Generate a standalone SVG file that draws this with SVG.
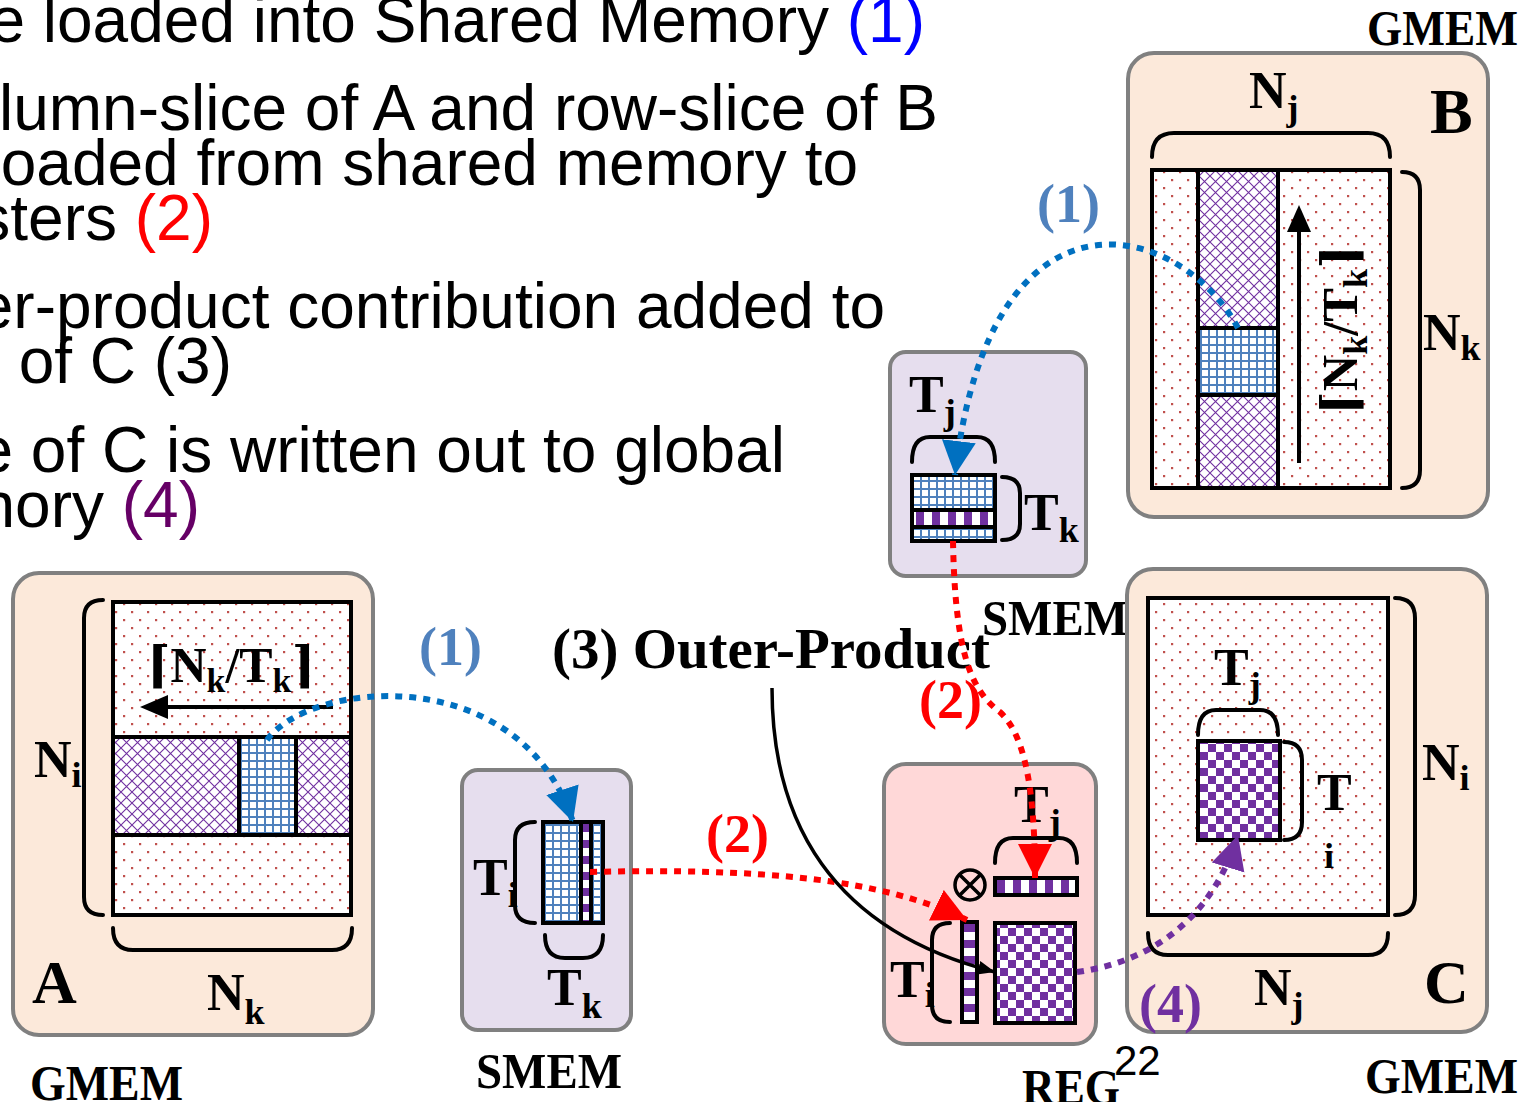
<svg xmlns="http://www.w3.org/2000/svg" width="1537" height="1102" viewBox="0 0 1537 1102">
<style>
.body{font-family:"Liberation Sans",Arial,sans-serif;font-size:64px;fill:#000}
.lbl{font-family:"Liberation Serif","DejaVu Serif",serif;font-weight:bold;fill:#000}
.big{font-size:52px}
.sub{font-size:36px}
.mem{font-size:50px}
.c1{fill:#4F81BD}
.c2{fill:#FF0000}
.c4{fill:#7030A0}
.box{stroke:#808080;stroke-width:4}
.gm{fill:#FCE9DA}
.sm{fill:#E6DEEE}
.rg{fill:#FFD8D8}
.ol{fill:none;stroke:#000;stroke-width:4}
.br{fill:none;stroke:#000;stroke-width:4;stroke-linecap:round}
.dash{fill:none;stroke-width:6;stroke-dasharray:7 7}
</style>
<defs>
<pattern id="dots" width="16" height="16" patternUnits="userSpaceOnUse"><rect width="16" height="16" fill="#fff"/><rect x="3" y="3" width="2.2" height="2.2" fill="#C0504D"/><rect x="11" y="11" width="2.2" height="2.2" fill="#C0504D"/></pattern>
<pattern id="hatch" width="11" height="11" patternUnits="userSpaceOnUse"><rect width="11" height="11" fill="#fff"/><path d="M0,0 L11,11 M11,0 L0,11" stroke="#7030A0" stroke-width="1.1"/></pattern>
<pattern id="grid" width="8" height="8" patternUnits="userSpaceOnUse"><rect width="8" height="8" fill="#fff"/><rect width="8" height="2" fill="#4F81BD"/><rect width="2" height="8" fill="#4F81BD"/></pattern>
<pattern id="check" width="16" height="16" patternUnits="userSpaceOnUse"><rect width="16" height="16" fill="#fff"/><rect width="8" height="8" fill="#7030A0"/><rect x="8" y="8" width="8" height="8" fill="#7030A0"/></pattern>
<pattern id="chkH1" x="997" y="880" width="16" height="20" patternUnits="userSpaceOnUse"><rect width="16" height="20" fill="#fff"/><rect width="8" height="20" fill="#7030A0"/></pattern>
<pattern id="chkH2" x="914" y="512" width="16" height="20" patternUnits="userSpaceOnUse"><rect width="16" height="20" fill="#fff"/><rect x="2" width="8" height="20" fill="#7030A0"/></pattern>
<pattern id="chkV1" x="962" y="924" width="20" height="16" patternUnits="userSpaceOnUse"><rect width="20" height="16" fill="#fff"/><rect width="20" height="8" fill="#7030A0"/></pattern>
<pattern id="chkV2" x="580" y="824" width="20" height="16" patternUnits="userSpaceOnUse"><rect width="20" height="16" fill="#fff"/><rect width="20" height="8" fill="#7030A0"/></pattern>
<marker id="mBlue" markerUnits="userSpaceOnUse" viewBox="0 0 36 36" markerWidth="36" markerHeight="36" refX="34" refY="17" orient="auto"><path d="M0,0 L34,17 L0,34 z" fill="#0070C0"/></marker>
<marker id="mRed" markerUnits="userSpaceOnUse" viewBox="0 0 36 36" markerWidth="36" markerHeight="36" refX="34" refY="17" orient="auto"><path d="M0,0 L34,17 L0,34 z" fill="#FF0000"/></marker>
<marker id="mPur" markerUnits="userSpaceOnUse" viewBox="0 0 36 36" markerWidth="36" markerHeight="36" refX="34" refY="17" orient="auto"><path d="M0,0 L34,17 L0,34 z" fill="#7030A0"/></marker>
<marker id="mBlk" markerUnits="userSpaceOnUse" viewBox="0 0 18 16" markerWidth="18" markerHeight="16" refX="17" refY="7" orient="auto"><path d="M0,0 L17,7 L0,14 z" fill="#000"/></marker>
</defs>
<rect width="1537" height="1102" fill="#fff"/>

<g id="text-block" class="body">
<text x="925" y="42" text-anchor="end">e loaded into Shared Memory <tspan style="fill:#0000FF">(1)</tspan></text>
<text x="938" y="130" text-anchor="end">lumn-slice of A and row-slice of B</text>
<text x="858" y="185" text-anchor="end">oaded from shared memory to</text>
<text x="213" y="240" text-anchor="end">sters <tspan style="fill:#FF0000">(2)</tspan></text>
<text x="885" y="328" text-anchor="end">er-product contribution added to</text>
<text x="232" y="383" text-anchor="end">e of C (3)</text>
<text x="785" y="472" text-anchor="end">e of C is written out to global</text>
<text x="200" y="527" text-anchor="end">nory <tspan style="fill:#660066">(4)</tspan></text>
</g>

<g id="gmem-B">
<rect class="box gm" x="1128" y="53" width="360" height="464" rx="26"/>
<rect x="1152" y="170" width="238" height="318" fill="url(#dots)"/>
<rect x="1198" y="170" width="80" height="318" fill="url(#hatch)"/>
<rect x="1198" y="328" width="80" height="67" fill="url(#grid)"/>
<rect class="ol" x="1152" y="170" width="238" height="318"/>
<path class="ol" d="M1198,170 V488 M1278,170 V488 M1198,328 H1278 M1198,395 H1278"/>
<line x1="1299" y1="463" x2="1299" y2="228" stroke="#000" stroke-width="4"/>
<path d="M1299,205 L1287,232 L1311,232 z" fill="#000"/>
<text class="lbl" font-size="50" transform="translate(1357,415) rotate(-90)" textLength="170" lengthAdjust="spacingAndGlyphs">⌈N<tspan font-size="34" dy="10">k</tspan><tspan dy="-10">/T</tspan><tspan font-size="34" dy="10">k</tspan><tspan dy="-10">⌉</tspan></text>
<path class="br" d="M1152,157 Q1152,133 1174,133 L1368,133 Q1390,133 1390,157"/>
<path class="br" d="M1402,172 Q1420,172 1420,190 L1420,470 Q1420,488 1402,488"/>
<text class="lbl big" x="1249" y="108">N<tspan class="sub" dy="12">j</tspan></text>
<text class="lbl" font-size="64" x="1430" y="133">B</text>
<text class="lbl big" x="1423" y="350">N<tspan class="sub" dy="10">k</tspan></text>
<text class="lbl mem" x="1367" y="45" textLength="151" lengthAdjust="spacingAndGlyphs">GMEM</text>
</g>

<g id="smem-top">
<rect class="box sm" x="890" y="352" width="196" height="224" rx="16"/>
<rect x="914" y="477" width="79" height="62" fill="url(#grid)"/>
<rect x="914" y="512" width="79" height="14" fill="url(#chkH2)"/>
<path class="ol" d="M912,510 H995 M912,527 H995"/>
<rect class="ol" x="912" y="475" width="83" height="66"/>
<path class="br" d="M912,462 Q912,437 930,437 L977,437 Q995,437 995,462"/>
<path class="br" d="M1002,477 Q1020,477 1020,493 L1020,524 Q1020,540 1002,540"/>
<text class="lbl big" x="909" y="412">T<tspan class="sub" dy="12">j</tspan></text>
<text class="lbl big" x="1024" y="530">T<tspan class="sub" dy="12">k</tspan></text>
<text class="lbl mem" x="982" y="635" textLength="146" lengthAdjust="spacingAndGlyphs">SMEM</text>
</g>

<g id="gmem-A">
<rect class="box gm" x="13" y="573" width="360" height="462" rx="26"/>
<rect x="113" y="602" width="238" height="313" fill="url(#dots)"/>
<rect x="113" y="737" width="238" height="98" fill="url(#hatch)"/>
<rect x="239" y="737" width="57" height="98" fill="url(#grid)"/>
<rect class="ol" x="113" y="602" width="238" height="313"/>
<path class="ol" d="M113,737 H351 M113,835 H351 M239,737 V835 M296,737 V835"/>
<line x1="333" y1="707" x2="165" y2="707" stroke="#000" stroke-width="4"/>
<path d="M140,707 L168,695 L168,719 z" fill="#000"/>
<text class="lbl" font-size="50" x="147" y="682" textLength="168" lengthAdjust="spacingAndGlyphs">⌈N<tspan font-size="34" dy="10">k</tspan><tspan dy="-10">/T</tspan><tspan font-size="34" dy="10">k</tspan><tspan dy="-10">⌉</tspan></text>
<path class="br" d="M103,600 Q84,600 84,618 L84,897 Q84,915 103,915"/>
<path class="br" d="M113,928 Q113,950 133,950 L332,950 Q352,950 352,928"/>
<text class="lbl big" x="34" y="777">N<tspan class="sub" dy="10">i</tspan></text>
<text class="lbl" font-size="62" x="32" y="1003">A</text>
<text class="lbl big" x="207" y="1010">N<tspan class="sub" dy="14">k</tspan></text>
<text class="lbl mem" x="30" y="1100" textLength="153" lengthAdjust="spacingAndGlyphs">GMEM</text>
</g>

<g id="smem-bottom">
<rect class="box sm" x="462" y="770" width="169" height="260" rx="16"/>
<rect x="545" y="824" width="56" height="97" fill="url(#grid)"/>
<rect x="582" y="824" width="8" height="97" fill="url(#chkV2)"/>
<path class="ol" d="M581,822 V923 M591,822 V923" stroke-width="3"/>
<rect class="ol" x="543" y="822" width="60" height="101"/>
<path class="br" d="M535,822 Q515,822 515,840 L515,905 Q515,923 535,923"/>
<path class="br" d="M545,935 Q545,958 565,958 L583,958 Q603,958 603,935"/>
<text class="lbl big" x="473" y="895">T<tspan class="sub" dy="12">i</tspan></text>
<text class="lbl big" x="547" y="1005">T<tspan class="sub" dy="13">k</tspan></text>
<text class="lbl mem" x="476" y="1088" textLength="146" lengthAdjust="spacingAndGlyphs">SMEM</text>
</g>

<g id="reg">
<rect class="box rg" x="884" y="764" width="212" height="280" rx="22"/>
<rect x="997" y="880" width="78" height="13" fill="url(#chkH1)"/>
<rect class="ol" x="995" y="878" width="82" height="17"/>
<rect x="964" y="924" width="11" height="96" fill="url(#chkV1)"/>
<rect class="ol" x="962" y="922" width="15" height="100"/>
<rect x="995" y="923" width="80" height="100" fill="url(#check)"/>
<rect class="ol" x="995" y="923" width="80" height="100"/>
<circle cx="970" cy="885" r="15" fill="none" stroke="#000" stroke-width="3.5"/>
<path d="M959.4,874.4 L980.6,895.6 M980.6,874.4 L959.4,895.6" stroke="#000" stroke-width="3.5"/>
<path class="br" d="M995,863 Q995,838 1013,838 L1059,838 Q1077,838 1077,863"/>
<path class="br" d="M950,923 Q932,923 932,940 L932,1005 Q932,1022 950,1022"/>
<text class="lbl big" x="1014" y="822">T<tspan class="sub" dy="12">j</tspan></text>
<text class="lbl big" x="890" y="997">T<tspan class="sub" dy="10">i</tspan></text>
<text class="lbl mem" x="1022" y="1104" textLength="98" lengthAdjust="spacingAndGlyphs">REG</text>
</g>

<g id="gmem-C">
<rect class="box gm" x="1127" y="569" width="360" height="463" rx="26"/>
<rect x="1148" y="598" width="240" height="317" fill="url(#dots)"/>
<rect class="ol" x="1148" y="598" width="240" height="317"/>
<rect x="1198" y="741" width="82" height="99" fill="url(#check)"/>
<rect class="ol" x="1198" y="741" width="82" height="99"/>
<path class="br" d="M1198,735 Q1198,710 1216,710 L1260,710 Q1278,710 1278,735"/>
<path class="br" d="M1284,742 Q1302,742 1302,760 L1302,822 Q1302,840 1284,840"/>
<path class="br" d="M1395,598 Q1415,598 1415,618 L1415,895 Q1415,915 1395,915"/>
<path class="br" d="M1148,933 Q1148,955 1168,955 L1368,955 Q1388,955 1388,933"/>
<text class="lbl big" x="1214" y="685">T<tspan class="sub" dy="12">j</tspan></text>
<text class="lbl big" x="1317" y="810">T</text>
<text class="lbl sub" x="1324" y="868">i</text>
<text class="lbl big" x="1422" y="780">N<tspan class="sub" dy="10">i</tspan></text>
<text class="lbl big" x="1254" y="1005">N<tspan class="sub" dy="12">j</tspan></text>
<text class="lbl" font-size="62" x="1424" y="1003">C</text>
<text class="lbl mem" x="1365" y="1093" textLength="153" lengthAdjust="spacingAndGlyphs">GMEM</text>
</g>

<g id="labels">
<text class="lbl" font-size="56" x="552" y="668" textLength="438" lengthAdjust="spacingAndGlyphs">(3) Outer-Product</text>
<text class="lbl c1" font-size="54" x="1037" y="222">(1)</text>
<text class="lbl c1" font-size="54" x="419" y="665">(1)</text>
<text class="lbl c2" font-size="54" x="706" y="852">(2)</text>
<text class="lbl c2" font-size="54" x="919" y="718">(2)</text>
<text class="lbl c4" font-size="54" x="1139" y="1022">(4)</text>
<text x="1114" y="1075" font-family="Liberation Sans, Arial, sans-serif" font-size="42">22</text>
</g>

<g id="connectors">
<path class="dash" stroke="#0070C0" d="M1238,328 C1180,220 990,170 955,475" marker-end="url(#mBlue)"/>
<path class="dash" stroke="#0070C0" d="M267,740 C310,680 520,660 573,822" marker-end="url(#mBlue)"/>
<path class="dash" stroke="#FF0000" d="M590,872 C760,868 880,878 967,920" marker-end="url(#mRed)"/>
<path class="dash" stroke="#FF0000" d="M953,541 C955,650 970,690 1000,712 C1025,735 1035,790 1035,878" marker-end="url(#mRed)"/>
<path class="dash" stroke="#7030A0" d="M1077,972 C1150,962 1212,920 1238,835" marker-end="url(#mPur)"/>
<path d="M772,688 C772,820 830,930 995,972" fill="none" stroke="#000" stroke-width="3.5" marker-end="url(#mBlk)"/>
</g>
</svg>
